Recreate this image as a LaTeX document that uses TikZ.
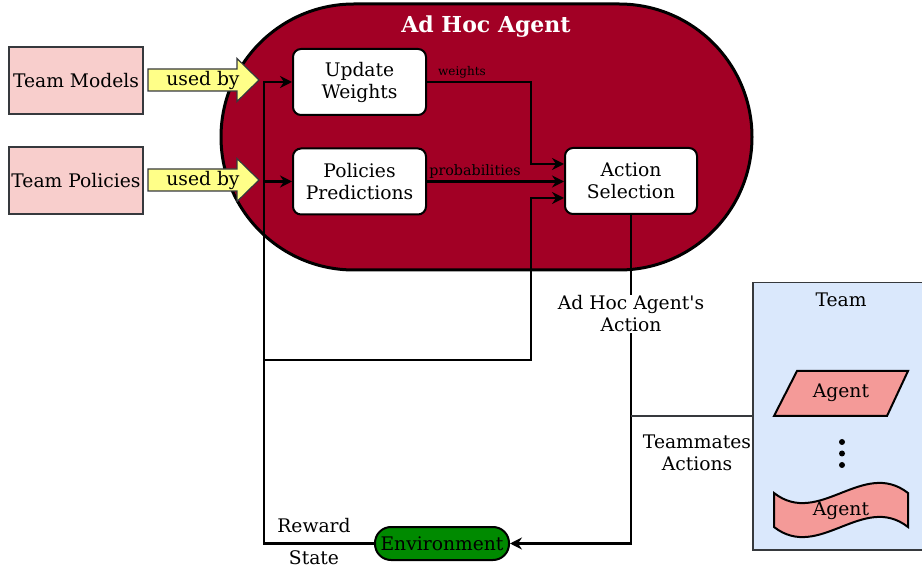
\documentclass[tikz,border=0pt]{standalone}
\usepackage{fontspec}
\setmainfont{DejaVu Serif}[Ligatures=TeXOff]
\usetikzlibrary{arrows.meta}
\definecolor{adred}{HTML}{A20025}
\definecolor{pinkbox}{HTML}{F8CECC}
\definecolor{yelarrow}{HTML}{FFFF88}
\definecolor{envgreen}{HTML}{008A00}
\definecolor{teamblue}{HTML}{DAE8FC}
\definecolor{agentred}{HTML}{F49A98}
\definecolor{edgegray}{HTML}{36393D}
\newcommand{\fsmain}{\fontsize{18.7}{22}\selectfont}
\newcommand{\fstitle}{\fontsize{22}{26}\selectfont}
\tikzset{
  conn/.style={line width=2.2pt, draw=black},
  conarr/.style={conn, -{Stealth[length=12pt,width=12pt,inset=4pt]}},
  whitebox/.style={draw=black, line width=2pt, fill=white, rounded corners=8pt,
     minimum width=133pt, minimum height=66pt, align=center, font=\fsmain},
  pinkrect/.style={draw=edgegray, line width=1.6pt, fill=pinkbox,
     minimum width=134pt, minimum height=67pt, font=\fsmain, inner sep=0pt},
  yarrow/.style={draw=edgegray, line width=1.2pt, fill=yelarrow},
  lbl/.style={font=\fsmain, align=center, inner sep=1pt},
  agentshape/.style={draw=black, line width=2pt, fill=agentred},
  usedarrow/.pic={
    \path[yarrow] (0,-11) -- (89,-11) -- (89,-21.5) -- (111,0) -- (89,21.5) -- (89,11) -- (0,11) -- cycle;
  }
}
\begin{document}
\begin{tikzpicture}[x=1pt,y=-1pt]
\useasboundingbox (0,0) rectangle (922,569);

% Ad Hoc Agent container
\node[draw=black, line width=3pt, fill=adred, rounded corners=133pt,
      minimum width=531pt, minimum height=266pt, inner sep=0pt] (adhoc) at (486.5,137) {};
\node[font=\bfseries\fstitle, text=white] (title) at (486,27) {Ad Hoc Agent};

% left boxes
\node[pinkrect] (models) at (76,80.5) {Team Models};
\node[pinkrect] (policies) at (76,180.5) {Team Policies};

% used by arrows
\pic at (148,80) {usedarrow};
\pic at (148,180) {usedarrow};
\node[lbl] (usedA) at (203,80) {used by};
\node[lbl] (usedB) at (203,180) {used by};

% inner boxes
\node[whitebox] (uw) at (359.5,82) {Update\\Weights};
\node[whitebox] (pp) at (359.5,181.5) {Policies\\Predictions};
\node[whitebox, minimum width=132pt] (as) at (631,181) {Action\\Selection};

% environment
\node[draw=black, line width=2pt, fill=envgreen, rounded corners=16pt,
      minimum width=134pt, minimum height=33pt, font=\fsmain, inner sep=0pt] (env) at (442,543.5) {Environment};

% team
\node[draw=edgegray, line width=1.5pt, fill=teamblue, minimum width=178pt,
      minimum height=267pt, anchor=north west, inner sep=0pt] (team) at (752,282) {};
\node[lbl] (teamlbl) at (841,300) {Team};
\path[agentshape] (774,416) -- (887,416) -- (908,371) -- (797,371) -- cycle;
\node[lbl] (agentA) at (841,393) {Agent};
\fill (842,442) circle (3pt) (842,453.5) circle (3pt) (842,465) circle (3pt);
\path[agentshape] (774,493) .. controls (819,528) and (863,458) .. (908,493)
   -- (908,527) .. controls (863,492) and (819,562) .. (774,527) -- cycle;
\node[lbl] (agentB) at (841,511) {Agent};

% coordinates
\coordinate (busTop) at (264,82);
\coordinate (busPP) at (264,181.5);
\coordinate (busMid) at (264,360);
\coordinate (joinA) at (531,360);
\coordinate (joinW) at (531,164);
\coordinate (teamIn) at (752,416);
\coordinate (actLine) at (631,416);

% connectors
\draw[conarr] (env.west) -| (busTop) -- (uw.west);
\draw[conarr] (busPP) -- (pp.west);
\draw[conarr] (busMid) -- (joinA) -- ([yshift=-17pt]as.west -| joinA) -- ([yshift=-17pt]as.west);
\draw[conarr] (uw.east) -| (joinW) -- ([yshift=17pt]as.west);
\draw[conarr] (pp.east) -- (pp.east -| as.west);
\draw[conarr] (as.south) |- (env.east);
\draw[conn, draw=edgegray] (teamIn) -- (actLine);

% labels
\node[font=\fontsize{12}{14}\selectfont, text=black] (wlbl) at (462,72) {weights};
\node[font=\fontsize{14.3}{16}\selectfont, text=black] (plbl) at (475,171.5) {probabilities};
\node[lbl, fill=white] (aalbl) at (631,314) {Ad Hoc Agent's\\Action};
\node[lbl] (tmlbl) at (697,453) {Teammates\\Actions};
\node[lbl] (rlbl) at (314,526) {Reward};
\node[lbl] (slbl) at (314,558) {State};
\end{tikzpicture}
\end{document}
